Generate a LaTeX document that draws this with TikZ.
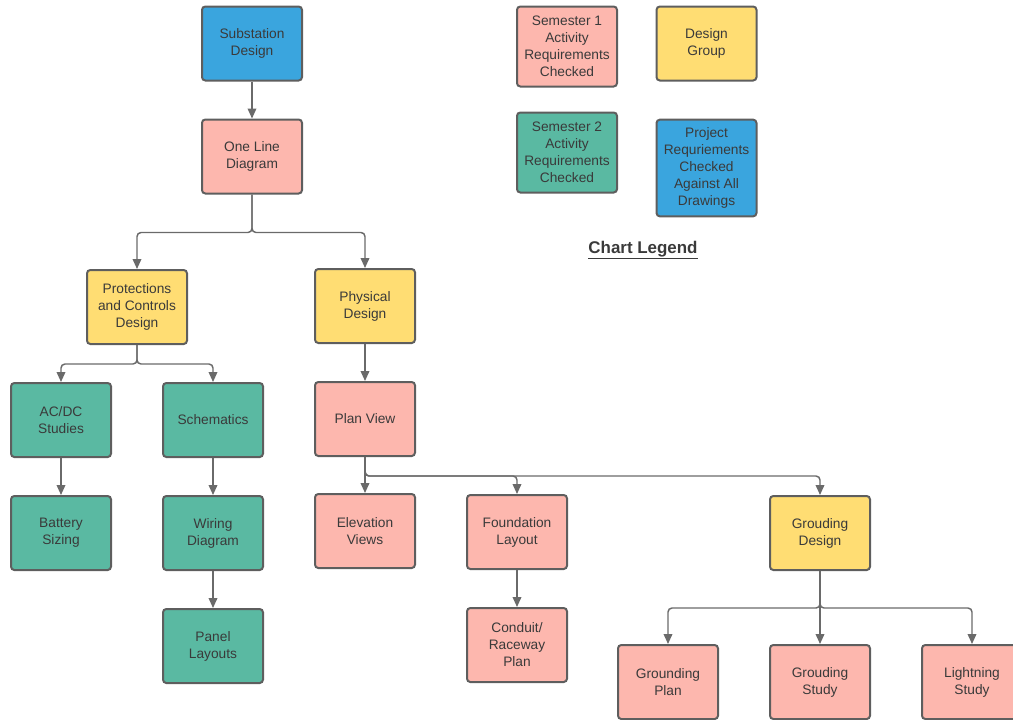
\documentclass[tikz,border=0pt]{standalone}
\usepackage{fontspec}
\setmainfont{Liberation Sans}
\usetikzlibrary{arrows.meta}
\definecolor{cblue}{HTML}{3AA5DE}
\definecolor{cpink}{HTML}{FDB7AE}
\definecolor{cyellow}{HTML}{FFDD73}
\definecolor{cteal}{HTML}{5AB9A2}
\definecolor{cborder}{HTML}{5E5E5E}
\definecolor{cline}{HTML}{6A6A6A}
\definecolor{ctext}{HTML}{3A3A3A}
\tikzset{
  box/.style={draw=cborder, line width=1.5pt, rounded corners=2.5pt, minimum width=75pt, minimum height=55.5pt, align=center, text=ctext, inner sep=2pt, font=\fontsize{10.3}{12.75}\selectfont},
  bluebox/.style={box, fill=cblue},
  pinkbox/.style={box, fill=cpink},
  yellowbox/.style={box, fill=cyellow},
  tealbox/.style={box, fill=cteal},
  conn/.style={draw=cline, line width=1.1pt, rounded corners=3pt, -{Triangle[length=7.5pt,width=6.5pt]}},
}
\begin{document}
\begin{tikzpicture}[x=0.75pt,y=-0.75pt]
\useasboundingbox (0,0) rectangle (1013,719);
\clip (0,0) rectangle (1013,719);
% main tree
\node[bluebox] (sub) at (252,43.5) {Substation\\Design};
\node[pinkbox] (one) at (252,156.5) {One Line\\Diagram};
\node[yellowbox] (prot) at (137,307) {Protections\\and Controls\\Design};
\node[yellowbox] (phys) at (365,306) {Physical\\Design};
\node[tealbox] (acdc) at (61,420) {AC/DC\\Studies};
\node[tealbox] (sch) at (213,420) {Schematics};
\node[pinkbox] (plan) at (365,419) {Plan View};
\node[tealbox] (bat) at (61,533) {Battery\\Sizing};
\node[tealbox] (wir) at (213,533) {Wiring\\Diagram};
\node[pinkbox] (elev) at (365,531) {Elevation\\Views};
\node[pinkbox] (found) at (517,532) {Foundation\\Layout};
\node[yellowbox] (gdes) at (820,533) {Grouding\\Design};
\node[tealbox] (panel) at (213,646) {Panel\\Layouts};
\node[pinkbox] (cond) at (517,645) {Conduit/\\Raceway\\Plan};
\node[pinkbox] (gplan) at (668,682) {Grounding\\Plan};
\node[pinkbox] (gstudy) at (820,682) {Grouding\\Study};
\node[pinkbox] (light) at (972,682) {Lightning\\Study};
% legend
\node[pinkbox, minimum height=60pt] (leg1) at (567,46.5) {Semester 1\\Activity\\Requirements\\Checked};
\node[yellowbox] (leg2) at (706.5,43.5) {Design\\Group};
\node[tealbox, minimum height=60pt] (leg3) at (567,152.5) {Semester 2\\Activity\\Requirements\\Checked};
\node[bluebox, minimum height=72.5pt] (leg4) at (706.5,168) {Project\\Requriements\\Checked\\Against All\\Drawings};
\node[text=ctext, font=\fontsize{12.7}{15}\selectfont\bfseries] (legtitle) at (643,250) {\underline{Chart Legend}};
% connectors
\draw[conn] (sub.south) -- (one.north);
\draw[conn] (one.south) -- ++(0,38) -| (prot.north);
\draw[conn] (one.south) -- ++(0,38) -| (phys.north);
\draw[conn] (prot.south) -- ++(0,19) -| (acdc.north);
\draw[conn] (prot.south) -- ++(0,19) -| (sch.north);
\draw[conn] (phys.south) -- (plan.north);
\draw[conn] (acdc.south) -- (bat.north);
\draw[conn] (sch.south) -- (wir.north);
\draw[conn] (wir.south) -- (panel.north);
\draw[conn] (plan.south) -- (elev.north);
\draw[conn] (plan.south) -- ++(0,19) -| (found.north);
\draw[conn] (plan.south) -- ++(0,19) -| (gdes.north);
\draw[conn] (found.south) -- (cond.north);
\draw[conn] (gdes.south) -- ++(0,37) -| (gplan.north);
\draw[conn] (gdes.south) -- (gstudy.north);
\draw[conn] (gdes.south) -- ++(0,37) -| (light.north);
\end{tikzpicture}
\end{document}
